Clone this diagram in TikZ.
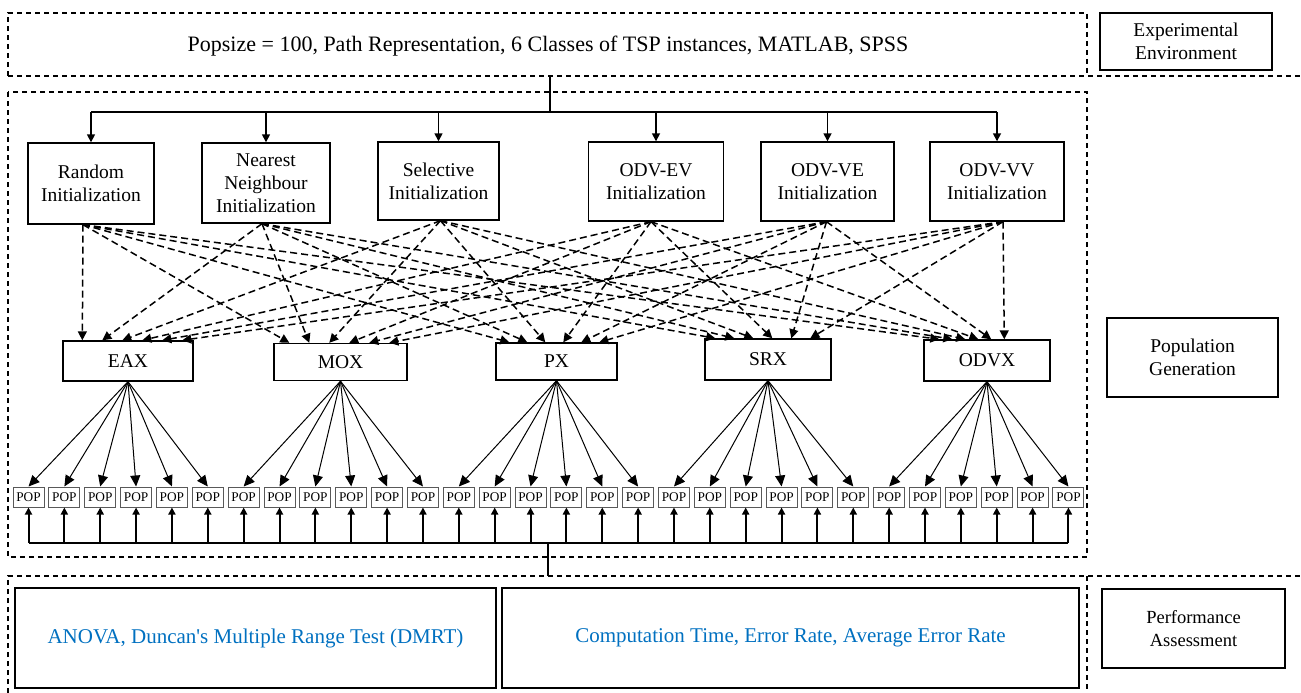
\documentclass[tikz,border=0pt]{standalone}
\usepackage{fontspec}
\setmainfont{Liberation Serif}
\usetikzlibrary{arrows.meta,calc}
\definecolor{bluetext}{RGB}{0,112,192}
\begin{document}
\begin{tikzpicture}[x=1pt,y=-1pt,
  box/.style={draw, line width=1.4pt, align=center, inner sep=0pt, font=\fontsize{19.5}{23}\selectfont},
  dbox/.style={draw, line width=1.2pt, dash pattern=on 5pt off 4pt},
  pop/.style={draw=black!65, line width=1pt, minimum width=31pt, minimum height=20pt, inner sep=0pt, font=\fontsize{13.3}{14}\selectfont},
  darr/.style={line width=1.5pt, dash pattern=on 7pt off 4pt, -{Triangle[length=9pt,width=9pt]}},
  tarr/.style={line width=1.6pt, -{Triangle[length=8pt,width=8pt]}},
  farr/.style={line width=1pt, -{Triangle[length=11pt,width=10pt]}},
  barr/.style={line width=2pt, -{Triangle[length=7pt,width=7pt]}},
  conn/.style={line width=1.6pt},
]
\useasboundingbox (0,0) rectangle (1301,693);

% dashed frames
\draw[dbox] (8,76) -- (8,13) -- (1087,13) -- (1087,76);
\draw[dbox] (8,76) -- (1301,76);
\draw[dbox] (8,92) rectangle (1087,557);
\draw[dbox] (8,693) -- (8,576) -- (1301,576);
\draw[dbox] (1087,576) -- (1087,693);

% top
\node[font=\fontsize{22}{26}\selectfont] (envtext) at (548,46) {Popsize = 100, Path Representation, 6 Classes of TSP instances, MATLAB, SPSS};
\node[box, minimum width=172pt, minimum height=57pt] (EE) at (1186,41.5) {Experimental\\Environment};
\node[box, minimum width=171pt, minimum height=79pt] (PG) at (1192.5,357.5) {Population\\Generation};
\node[box, minimum width=183pt, minimum height=79pt, font=\fontsize{18.5}{23}\selectfont] (PA) at (1193.5,628.5) {Performance\\Assessment};

% initialization boxes
\node[box, minimum width=126pt, minimum height=81pt] (R) at (91,183.5) {Random\\Initialization};
\node[box, minimum width=128pt, minimum height=80pt] (NN) at (266,183) {Nearest\\Neighbour\\Initialization};
\node[box, minimum width=121pt, minimum height=78pt] (S) at (438.5,181) {Selective\\Initialization};
\node[box, minimum width=135pt, minimum height=79pt] (EV) at (656,181.5) {ODV-EV\\Initialization};
\node[box, minimum width=133pt, minimum height=79pt] (VE) at (827.5,181.5) {ODV-VE\\Initialization};
\node[box, minimum width=134pt, minimum height=79pt] (VV) at (997,181.5) {ODV-VV\\Initialization};

% crossover boxes
\node[box, minimum width=130pt, minimum height=40pt] (EAX) at (128,361) {EAX};
\node[box, minimum width=133pt, minimum height=37pt] (MOX) at (340.5,362) {MOX};
\node[box, minimum width=121pt, minimum height=37pt] (PX) at (556.5,361.5) {PX};
\node[box, minimum width=126pt, minimum height=41pt] (SRX) at (768,359.5) {SRX};
\node[box, minimum width=126pt, minimum height=41pt] (ODVX) at (987,360.5) {ODVX};

% top distribution
\coordinate (topout) at (550,76);
\coordinate (hub) at (550,112);
\draw[conn] (topout) -- (hub);
\draw[conn] (R.north |- hub) -- (VV.north |- hub);
\foreach \n in {R,NN,S,EV,VE,VV}
  \draw[tarr] (\n.north |- hub) -- (\n.north);

% dashed arrows init -> crossover
\foreach \t/\a/\d in {EAX/20/20, MOX/16/20, PX/14/18, SRX/11/19, ODVX/16/13} {
  \foreach \s/\o [count=\i from 0] in {R/-8, NN/-4, S/2, EV/-5, VE/-1, VV/6} {
    \draw[darr] ([xshift=\o pt]\s.south) -- ([xshift={(\a+\i*\d)*1pt}]\t.north west);
  }
}

% POP boxes
\foreach \k in {0,...,29}
  \node[pop] (P\k) at ({28.5+35.86*\k},497) {POP};

% fans
\foreach \t [count=\j from 0] in {EAX,MOX,PX,SRX,ODVX} {
  \foreach \m in {0,...,5} {
    \pgfmathtruncatemacro\k{6*\j+\m}
    \draw[farr] (\t.south) -- (P\k.north);
  }
}

% bottom bus
\coordinate (bus) at (548,543);
\coordinate (busout) at (548,576);
\draw[line width=1.6pt] (P0.south |- bus) -- (P29.south |- bus);
\foreach \k in {0,...,29}
  \draw[barr] (P\k.south |- bus) -- (P\k.south);
\draw[line width=1.2pt] (bus) -- (busout);

% bottom boxes
\node[box, minimum width=481pt, minimum height=100pt, text=bluetext, font=\fontsize{21}{25}\selectfont] (anova) at (255.5,638) {ANOVA, Duncan\textquotesingle s Multiple Range Test (DMRT)};
\node[box, minimum width=577pt, minimum height=100pt, text=bluetext, font=\fontsize{21}{25}\selectfont] (comp) at (790.5,638) {Computation Time, Error Rate, Average Error Rate};
\end{tikzpicture}
\end{document}
